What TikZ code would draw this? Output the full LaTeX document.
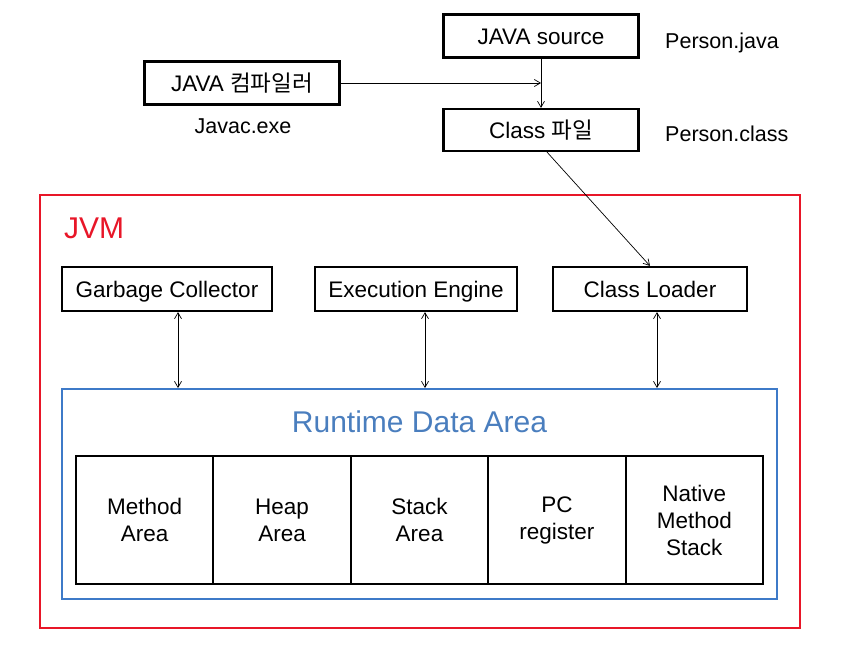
\documentclass[tikz,border=0pt]{standalone}
\usepackage{fontspec}
\setmainfont{Liberation Sans}
\newfontfamily\krfont{Noto Sans CJK KR}
\usetikzlibrary{arrows.meta}
\definecolor{jvmred}{RGB}{232,22,40}
\definecolor{rdablue}{RGB}{62,122,200}
\definecolor{rdatext}{RGB}{74,126,190}
\begin{document}
\begin{tikzpicture}[x=1pt,y=-1pt,
  txt/.style={font=\fontsize{22.5}{27}\selectfont},
  lbl/.style={font=\fontsize{21.5}{26}\selectfont},
  box/.style={txt, draw, line width=2.2pt, inner sep=0pt, minimum height=43pt, text height=16.1pt, text depth=0pt},
  cell/.style={txt, draw, line width=1.9pt, inner sep=0pt, align=center, minimum width=137.4pt, minimum height=128pt},
  arr/.style={line width=0.7pt, -{Straight Barb[length=6pt,width=7pt]}},
  darr/.style={line width=0.7pt, {Straight Barb[length=6pt,width=7pt]}-{Straight Barb[length=6pt,width=7pt]}}
]
\useasboundingbox (0,0) rectangle (843,651);
% outer frames
\node[draw=jvmred, line width=1.8pt, minimum width=760pt, minimum height=433pt, inner sep=0pt] (jvm) at (420,411.5) {};
\node[draw=rdablue, line width=2pt, minimum width=715pt, minimum height=210pt, inner sep=0pt] (rda) at (419.5,494) {};
\node[text=jvmred, font=\fontsize{30}{34}\selectfont, anchor=west, inner sep=0pt] (jvml) at (64,228) {JVM};
\node[text=rdatext, font=\fontsize{30}{34}\selectfont, inner sep=0pt] (rdal) at (419.5,422) {Runtime Data Area};
% top
\node[box, minimum width=195pt] (src) at (541,36) {JAVA source};
\node[box, minimum width=195pt] (comp) at (242,83) {JAVA {\krfont 컴파일러}};
\node[box, minimum width=195pt, minimum height=42pt] (cls) at (541,130) {Class {\krfont 파일}};
\node[lbl, anchor=west, inner sep=0pt] (pj) at (665,43) {Person.java};
\node[lbl, anchor=west, inner sep=0pt] (pc) at (665,134) {Person.class};
\node[lbl, inner sep=0pt] (jx) at (243,126) {Javac.exe};
% JVM components
\node[box, minimum width=210pt, minimum height=44pt] (gc) at (167,289) {Garbage Collector};
\node[box, minimum width=202pt, minimum height=44pt] (ee) at (416,289) {Execution Engine};
\node[box, minimum width=194pt, minimum height=44pt] (cl) at (650,289) {Class Loader};
% cells
\node[cell] (c1) at (144.7,520) {Method\\Area};
\node[cell] (c2) at (282.1,520) {Heap\\Area};
\node[cell] (c3) at (419.5,520) {Stack\\Area};
\node[cell] (c4) at (556.9,520) {PC\\register};
\node[cell] (c5) at (694.3,520) {Native\\Method\\Stack};
% connectors
\draw[arr] (src.south) -- (cls.north);
\draw[arr] (comp.east) -- (comp.east -| src.south);
\draw[arr] ([xshift=6pt]cls.south) -- (cl.north);
\draw[darr] ([xshift=11pt]gc.south) -- ([xshift=11pt]gc.south |- rda.north);
\draw[darr] ([xshift=9pt]ee.south) -- ([xshift=9pt]ee.south |- rda.north);
\draw[darr] ([xshift=7pt]cl.south) -- ([xshift=7pt]cl.south |- rda.north);
\end{tikzpicture}
\end{document}
